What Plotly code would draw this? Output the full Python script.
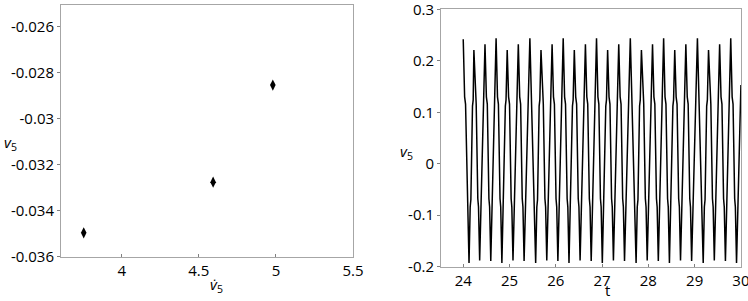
import plotly.graph_objects as go

# Left panel: phase points
phase_x = [3.754, 4.593, 4.98]
phase_y = [-0.03496, -0.03276, -0.02854]

# Right panel: time series v5(t)
t_vals = [
    24.000, 24.030, 24.050, 24.085, 24.100, 24.125, 24.150, 24.165, 24.200, 24.215,
    24.230, 24.260, 24.280, 24.315, 24.330, 24.355, 24.380, 24.395, 24.430, 24.445,
    24.470, 24.500, 24.520, 24.555, 24.570, 24.595, 24.620, 24.635, 24.670, 24.685,
    24.710, 24.740, 24.760, 24.795, 24.810, 24.835, 24.860, 24.875, 24.910, 24.925,
    24.950, 24.980, 25.000, 25.035, 25.050, 25.075, 25.100, 25.115, 25.150, 25.165,
    25.190, 25.220, 25.240, 25.275, 25.290, 25.315, 25.340, 25.355, 25.390, 25.405,
    25.440, 25.470, 25.490, 25.525, 25.540, 25.565, 25.590, 25.605, 25.640, 25.655,
    25.680, 25.710, 25.730, 25.765, 25.780, 25.805, 25.830, 25.845, 25.880, 25.895,
    25.920, 25.950, 25.970, 26.005, 26.020, 26.045, 26.070, 26.085, 26.120, 26.135,
    26.160, 26.190, 26.210, 26.245, 26.260, 26.285, 26.310, 26.325, 26.360, 26.375,
    26.400, 26.430, 26.450, 26.485, 26.500, 26.525, 26.550, 26.565, 26.600, 26.615,
    26.640, 26.670, 26.690, 26.725, 26.740, 26.765, 26.790, 26.805, 26.840, 26.855,
    26.880, 26.910, 26.930, 26.965, 26.980, 27.005, 27.030, 27.045, 27.080, 27.095,
    27.120, 27.150, 27.170, 27.205, 27.220, 27.245, 27.270, 27.285, 27.320, 27.335,
    27.360, 27.390, 27.410, 27.445, 27.460, 27.485, 27.510, 27.525, 27.560, 27.575,
    27.610, 27.640, 27.660, 27.695, 27.710, 27.735, 27.760, 27.775, 27.810, 27.825,
    27.850, 27.880, 27.900, 27.935, 27.950, 27.975, 28.000, 28.015, 28.050, 28.065,
    28.090, 28.120, 28.140, 28.175, 28.190, 28.215, 28.240, 28.255, 28.290, 28.305,
    28.330, 28.360, 28.380, 28.415, 28.430, 28.455, 28.480, 28.495, 28.530, 28.545,
    28.570, 28.600, 28.620, 28.655, 28.670, 28.695, 28.720, 28.735, 28.770, 28.785,
    28.810, 28.840, 28.860, 28.895, 28.910, 28.935, 28.960, 28.975, 29.010, 29.025,
    29.060, 29.090, 29.110, 29.145, 29.160, 29.185, 29.210, 29.225, 29.260, 29.275,
    29.300, 29.330, 29.350, 29.385, 29.400, 29.425, 29.450, 29.465, 29.500, 29.515,
    29.540, 29.570, 29.590, 29.625, 29.640, 29.665, 29.690, 29.705, 29.740, 29.755,
    29.780, 29.810, 29.830, 29.865, 29.880, 29.905, 29.930, 29.945, 29.980, 30.000,
]
v_vals = [
    0.242, 0.130, 0.116, -0.068, -0.084, -0.193, -0.084, -0.070, 0.112, 0.124,
    0.221, 0.130, 0.116, -0.068, -0.084, -0.188, -0.084, -0.070, 0.112, 0.124,
    0.232, 0.130, 0.116, -0.068, -0.084, -0.189, -0.084, -0.070, 0.112, 0.124,
    0.244, 0.130, 0.116, -0.068, -0.084, -0.193, -0.084, -0.070, 0.112, 0.124,
    0.221, 0.130, 0.116, -0.068, -0.084, -0.188, -0.084, -0.070, 0.112, 0.124,
    0.232, 0.130, 0.116, -0.068, -0.084, -0.189, -0.084, -0.070, 0.112, 0.124,
    0.244, 0.130, 0.116, -0.068, -0.084, -0.193, -0.084, -0.070, 0.112, 0.124,
    0.221, 0.130, 0.116, -0.068, -0.084, -0.188, -0.084, -0.070, 0.112, 0.124,
    0.232, 0.130, 0.116, -0.068, -0.084, -0.189, -0.084, -0.070, 0.112, 0.124,
    0.244, 0.130, 0.116, -0.068, -0.084, -0.193, -0.084, -0.070, 0.112, 0.124,
    0.221, 0.130, 0.116, -0.068, -0.084, -0.188, -0.084, -0.070, 0.112, 0.124,
    0.232, 0.130, 0.116, -0.068, -0.084, -0.189, -0.084, -0.070, 0.112, 0.124,
    0.244, 0.130, 0.116, -0.068, -0.084, -0.193, -0.084, -0.070, 0.112, 0.124,
    0.221, 0.130, 0.116, -0.068, -0.084, -0.188, -0.084, -0.070, 0.112, 0.124,
    0.232, 0.130, 0.116, -0.068, -0.084, -0.189, -0.084, -0.070, 0.112, 0.124,
    0.244, 0.130, 0.116, -0.068, -0.084, -0.193, -0.084, -0.070, 0.112, 0.124,
    0.221, 0.130, 0.116, -0.068, -0.084, -0.188, -0.084, -0.070, 0.112, 0.124,
    0.232, 0.130, 0.116, -0.068, -0.084, -0.189, -0.084, -0.070, 0.112, 0.124,
    0.244, 0.130, 0.116, -0.068, -0.084, -0.193, -0.084, -0.070, 0.112, 0.124,
    0.221, 0.130, 0.116, -0.068, -0.084, -0.188, -0.084, -0.070, 0.112, 0.124,
    0.232, 0.130, 0.116, -0.068, -0.084, -0.189, -0.084, -0.070, 0.112, 0.124,
    0.244, 0.130, 0.116, -0.068, -0.084, -0.193, -0.084, -0.070, 0.112, 0.124,
    0.221, 0.130, 0.116, -0.068, -0.084, -0.188, -0.084, -0.070, 0.112, 0.124,
    0.232, 0.130, 0.116, -0.068, -0.084, -0.189, -0.084, -0.070, 0.112, 0.124,
    0.244, 0.130, 0.116, -0.068, -0.084, -0.193, -0.084, -0.070, 0.112, 0.153,
]

left_xticks = [4, 4.5, 5, 5.5]
left_xticklabels = ["4", "4.5", "5", "5.5"]
left_yticks = [-0.036, -0.034, -0.032, -0.030, -0.028, -0.026]
left_yticklabels = ["-0.036", "-0.034", "-0.032", "-0.03", "-0.028", "-0.026"]
right_xticks = [24, 25, 26, 27, 28, 29, 30]
right_xticklabels = ["24", "25", "26", "27", "28", "29", "30"]
right_yticks = [-0.2, -0.1, 0, 0.1, 0.2, 0.3]
right_yticklabels = ["-0.2", "-0.1", "0", "0.1", "0.2", "0.3"]

FONT = "Open Sans"
frame = "#a6a6a6"

fig = go.Figure()
fig.add_trace(go.Scatter(
    x=phase_x, y=phase_y, mode="markers",
    marker=dict(symbol="diamond-tall", size=8, color="black"),
    xaxis="x", yaxis="y", showlegend=False,
))
fig.add_trace(go.Scatter(
    x=t_vals, y=v_vals, mode="lines",
    line=dict(color="black", width=1.5),
    xaxis="x2", yaxis="y2", showlegend=False,
))

axis_common = dict(
    showgrid=False, zeroline=False, showline=True, linecolor=frame, linewidth=1,
    mirror=True, ticklen=3, tickcolor="#808080", automargin=False,
    ticklabeloverflow="allow",
    tickfont=dict(family=FONT, size=15, color="black"),
)

fig.update_layout(
    width=748, height=301,
    margin=dict(l=0, r=0, t=0, b=0, autoexpand=False),
    paper_bgcolor="white", plot_bgcolor="white",
    xaxis=dict(domain=[0.0816, 0.472], range=[3.607, 5.5001], tickvals=left_xticks,
               ticktext=left_xticklabels, ticks="inside", anchor="y",
               **axis_common),
    yaxis=dict(domain=[0.1462, 0.9844], range=[-0.03601, -0.02505], tickvals=left_yticks,
               ticktext=left_yticklabels, ticks="outside", anchor="x", **axis_common),
    xaxis2=dict(domain=[0.5896, 0.9906], range=[23.52, 30.001], tickvals=right_xticks,
                ticktext=right_xticklabels, ticks="inside", anchor="y2", **axis_common),
    yaxis2=dict(domain=[0.114, 0.969], range=[-0.2001, 0.3001], tickvals=right_yticks,
                ticktext=right_yticklabels, ticks="outside", anchor="x2", **axis_common),
)

ann_font = dict(family=FONT, size=15, color="black")
fig.add_annotation(text="<i>v</i><sub>5</sub>", x=10 / 748, y=1 - 143 / 301,
                   xref="paper", yref="paper", showarrow=False, font=ann_font,
                   xanchor="center", yanchor="middle")
fig.add_annotation(text="<i>v̇</i><sub>5</sub>", x=216 / 748, y=1 - 285 / 301,
                   xref="paper", yref="paper", showarrow=False, font=ann_font,
                   xanchor="center", yanchor="middle")
fig.add_annotation(text="<i>v</i><sub>5</sub>", x=407 / 748, y=1 - 152 / 301,
                   xref="paper", yref="paper", showarrow=False, font=ann_font,
                   xanchor="center", yanchor="middle")
fig.add_annotation(text="t", x=607 / 748, y=0, borderpad=0,
                   xref="paper", yref="paper", showarrow=False, font=ann_font,
                   xanchor="center", yanchor="bottom")

fig.write_html(
    "out.html",
    config={"displayModeBar": False},
    post_script="document.body.style.margin='0';document.body.style.overflow='hidden';",
)
